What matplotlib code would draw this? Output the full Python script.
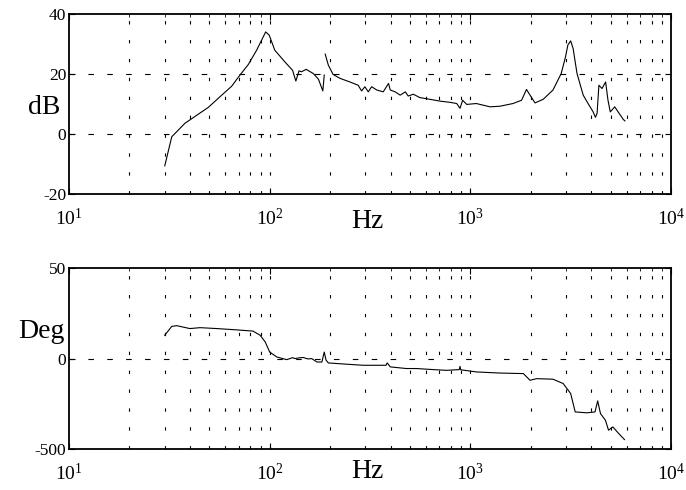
import matplotlib
matplotlib.use("Agg")
import matplotlib.pyplot as plt

plt.rcParams['font.family'] = ['Liberation Serif', 'DejaVu Serif']
plt.rcParams['mathtext.fontset'] = 'custom'
plt.rcParams['mathtext.rm'] = 'Liberation Serif'
plt.rcParams['mathtext.it'] = 'Liberation Serif:italic'
plt.rcParams['axes.unicode_minus'] = False

# magnitude, first segment (up to ~187 Hz)
mag_f1 = [30, 32.5, 37.8, 49.4, 57.7, 64.7, 71.1, 78.2, 86.1, 95.5, 99.5, 106,
          119, 130, 135, 140, 144, 152, 165, 175, 184, 187]
mag_db1 = [-10.6, -0.9, 3.6, 8.9, 13, 16, 19.7, 23.2, 28, 34.1, 33, 28,
           24.1, 21.3, 17.7, 21.1, 20.8, 21.6, 20.2, 18.3, 14.4, 19.7]

# magnitude, second segment
mag_f2 = [189, 196, 207, 224, 251, 276, 287, 298, 310, 322, 342, 368, 391, 399,
          422, 447, 474, 490, 520, 559, 629, 706, 792, 855, 888, 915, 959, 1070,
          1253, 1403, 1631, 1800, 1904, 1983, 2100, 2305, 2580, 2835, 2980,
          3060, 3160, 3250, 3400, 3650, 3860, 4090, 4200, 4280, 4370, 4530,
          4720, 4850, 4980, 5240, 5450, 5780, 5890]
mag_db2 = [26.7, 23, 19.9, 18.6, 17.4, 16.3, 14.4, 15.8, 14.1, 15.8, 14.7, 14.1,
           16.9, 14.7, 14.1, 13, 14.1, 12.7, 13.3, 12.2, 11.6, 11, 10.6, 10.2,
           8.6, 11.3, 9.9, 10.2, 9.1, 9.3, 10.2, 11.3, 14.9, 13, 10.4, 11.6,
           14.7, 20.2, 25.8, 29.7, 31.1, 28.6, 20.2, 13, 10.2, 7.4, 5.6, 6.9,
           16.3, 15.2, 17.4, 11.3, 7.4, 9.1, 7.4, 4.9, 4.4]

# phase (deg)
ph_f = [30, 32.5, 34.4, 40, 45, 54.5, 66, 82.6, 89.6, 95, 100, 108.5, 121.6,
        130, 133.6, 140, 147, 155, 162, 172, 182, 187, 191, 196, 241, 292, 380,
        385, 399, 480, 539, 654, 762, 880, 888, 895, 1075, 1403, 1837, 1983,
        2140, 2580, 2900, 3160, 3330, 3800, 4180, 4310, 4450, 4710, 4880, 5130,
        5450, 5860]
ph_deg = [129, 178, 182, 166, 171, 166, 160, 152, 129, 92, 36, 9, -6,
          5, 0, 4, 6, -2, 0, -19, -19, 36, -9, -24, -31, -37, -37,
          -24, -46, -55, -55, -61, -65, -61, -43, -62, -74, -80, -83, -120,
          -111, -114, -138, -193, -295, -300, -295, -234, -304, -341, -396, -378,
          -411, -448]

mag_ticks = [-20, 0, 20, 40]
ph_ticks = [-500, 0, 500]
ph_labels = ['-500', '0', '50']
decades = [10, 100, 1000, 10000]
dec_labels = [r'$10^{1}$', r'$10^{2}$', r'$10^{3}$', r'$10^{4}$']

fig = plt.figure(figsize=(6.86, 4.9), dpi=100)
ax1 = fig.add_axes([0.1006, 0.604, 0.8776, 0.367])
ax2 = fig.add_axes([0.1006, 0.0837, 0.8776, 0.369])

minor = [m * d for d in decades[:-1] for m in range(2, 10)]

for ax in (ax1, ax2):
    ax.set_xscale('log')
    ax.set_xlim(10, 10000)
    ax.set_xticks(decades)
    ax.set_xticklabels(dec_labels, fontsize=14)
    ax.set_xticks(minor, minor=True)
    ax.xaxis.set_minor_formatter(matplotlib.ticker.NullFormatter())
    ax.tick_params(which='both', direction='in', top=True, right=True)
    ax.tick_params(which='major', length=4, width=0.8)
    ax.tick_params(which='minor', length=2, width=0.6)
    ax.tick_params(axis='x', pad=10)
    ax.tick_params(axis='y', labelsize=12.5, pad=2)
    for sp in ax.spines.values():
        sp.set_linewidth(1.3)
    for x in minor + decades[1:-1]:
        ax.axvline(x, color='black', lw=0.8, ls=(0, (3, 14)), zorder=0)

ax1.plot(mag_f1, mag_db1, color='black', lw=0.8)
ax1.plot(mag_f2, mag_db2, color='black', lw=0.8)
ax1.set_ylim(-20, 40)
ax1.set_yticks(mag_ticks)
for y in mag_ticks[1:-1]:
    ax1.axhline(y, color='black', lw=0.8, ls=(0, (5, 12)), zorder=0)
ax1.set_ylabel('dB', fontsize=20, rotation=0, ha='right', va='center')
ax1.yaxis.set_label_coords(-0.015, 0.48)
ax1.set_xlabel('Hz', fontsize=20, va='center')
ax1.xaxis.set_label_coords(0.495, -0.15)

ax2.plot(ph_f, ph_deg, color='black', lw=0.8)
ax2.set_ylim(-500, 500)
ax2.set_yticks(ph_ticks)
ax2.set_yticklabels(ph_labels)
ax2.axhline(0, color='black', lw=0.8, ls=(0, (5, 12)), zorder=0)
ax2.set_ylabel('Deg', fontsize=20, rotation=0, ha='right', va='center')
ax2.yaxis.set_label_coords(-0.008, 0.65)
ax2.set_xlabel('Hz', fontsize=20, va='center')
ax2.xaxis.set_label_coords(0.495, -0.125)

fig.savefig('out.png', dpi=100)
